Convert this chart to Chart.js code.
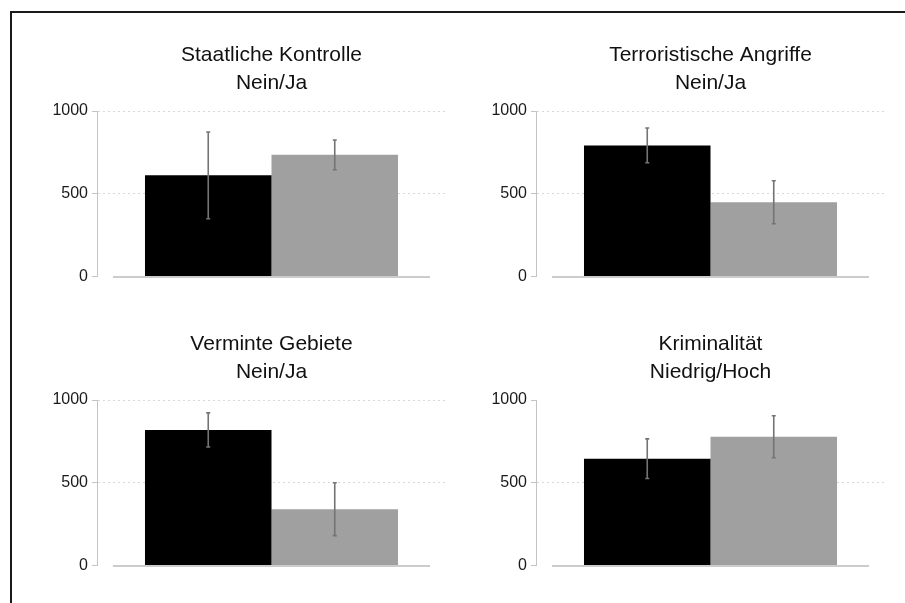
<!DOCTYPE html>
<html>
<head>
<meta charset="utf-8">
<script src="https://cdn.jsdelivr.net/npm/chart.js@4.4.1/dist/chart.umd.min.js"></script>
<style>
  body { margin: 0; background: #fff; }
  #page { position: relative; width: 905px; height: 603px; overflow: hidden; }
  #frame {
    position: absolute; left: 10px; top: 11px; width: 900px; height: 600px;
    border-left: 2px solid #1a1a1a; border-top: 2px solid #1a1a1a;
  }
  .panel { position: absolute; width: 450px; height: 290px; }
</style>
</head>
<body>
<div id="page">
  <div id="frame"></div>
  <div class="panel" style="left:0px;top:0px"><canvas id="c0"></canvas></div>
  <div class="panel" style="left:439px;top:0px"><canvas id="c1"></canvas></div>
  <div class="panel" style="left:0px;top:289px"><canvas id="c2"></canvas></div>
  <div class="panel" style="left:439px;top:289px"><canvas id="c3"></canvas></div>
</div>
<script>
// values
const titleLines = ['Staatliche Kontrolle', 'Terroristische Angriffe', 'Verminte Gebiete', 'Kriminalität'];
const subLines = ['Nein/Ja', 'Nein/Ja', 'Nein/Ja', 'Niedrig/Hoch'];
const firstValues = [611, 792, 819, 645];
const firstErrors = [262, 105, 103, 120];
const secondValues = [735, 448, 340, 778];
const secondErrors = [90, 130, 160, 127];
const yTicks = [0, 500, 1000];

const fontFamily = "'Liberation Sans', Arial, sans-serif";
// the last panel has no dotted line at the top tick
const topGridShown = [true, true, true, false];

// error bars, drawn from the dataset values through the y scale
const errorBars = {
  id: 'errorBars',
  afterDatasetsDraw(chart) {
    const ctx = chart.ctx;
    const y = chart.scales.y;
    ctx.save();
    ctx.strokeStyle = '#747474';
    ctx.lineWidth = 1.6;
    chart.data.datasets.forEach((ds, di) => {
      const meta = chart.getDatasetMeta(di);
      meta.data.forEach((bar, i) => {
        const v = ds.data[i];
        const e = ds.errors[i];
        const top = y.getPixelForValue(v + e);
        const bottom = y.getPixelForValue(v - e);
        ctx.beginPath();
        ctx.moveTo(bar.x, top);
        ctx.lineTo(bar.x, bottom);
        ctx.moveTo(bar.x - 2, top);
        ctx.lineTo(bar.x + 2, top);
        ctx.moveTo(bar.x - 2, bottom);
        ctx.lineTo(bar.x + 2, bottom);
        ctx.stroke();
      });
    });
    ctx.restore();
  },
};

// light baseline at zero, a bit wider than the bar pair
const baseLine = {
  id: 'baseLine',
  beforeDatasetsDraw(chart) {
    const ctx = chart.ctx;
    const y0 = chart.scales.y.getPixelForValue(0);
    const b0 = chart.getDatasetMeta(0).data[0];
    const b1 = chart.getDatasetMeta(1).data[0];
    const left = b0.x - b0.width / 2 - 32;
    const right = b1.x + b1.width / 2 + 32;
    ctx.save();
    ctx.strokeStyle = '#cccccc';
    ctx.lineWidth = 2;
    ctx.beginPath();
    ctx.moveTo(left, y0 + 0.5);
    ctx.lineTo(right, y0 + 0.5);
    ctx.stroke();
    ctx.restore();
  },
};

function makePanel(i) {
  const ctx = document.getElementById('c' + i);
  return new Chart(ctx, {
    type: 'bar',
    data: {
      labels: [''],
      datasets: [
        {
          label: 'first',
          data: [firstValues[i]],
          errors: [firstErrors[i]],
          backgroundColor: '#000000',
        },
        {
          label: 'second',
          data: [secondValues[i]],
          errors: [secondErrors[i]],
          backgroundColor: '#a0a0a0',
        },
      ],
    },
    options: {
      responsive: true,
      maintainAspectRatio: false,
      animation: false,
      datasets: {
        bar: { categoryPercentage: 0.725, barPercentage: 1 },
      },
      layout: { padding: { top: 0, left: 0, right: 4, bottom: 13 } },
      plugins: {
        legend: { display: false },
        tooltip: { enabled: false },
        title: {
          display: true,
          fullSize: false,
          text: [titleLines[i], subLines[i]],
          color: '#111111',
          font: { family: fontFamily, size: 21, weight: 'normal', lineHeight: '28px' },
          padding: { top: 41, bottom: 14 },
        },
      },
      scales: {
        x: { display: false },
        y: {
          min: 0,
          max: 1000,
          afterBuildTicks: (scale) => {
            scale.ticks = yTicks.map((v) => ({ value: v }));
          },
          afterFit: (scale) => {
            scale.width = 97;
          },
          border: { display: true, color: '#c4c4c4', width: 1, dash: [2, 3] },
          grid: {
            color: (c) => {
              if (!c.tick || c.tick.value === 0) return 'rgba(0,0,0,0)';
              if (c.tick.value === 1000 && !topGridShown[i]) return 'rgba(0,0,0,0)';
              return '#d8d8d8';
            },
            lineWidth: 1,
            tickLength: 5,
            tickColor: '#c4c4c4',
            tickBorderDash: [],
          },
          ticks: {
            color: '#1a1a1a',
            padding: 4,
            font: { family: fontFamily, size: 16 },
            callback: (v) => String(v),
          },
        },
      },
    },
    plugins: [baseLine, errorBars],
  });
}

[0, 1, 2, 3].forEach(makePanel);
</script>
</body>
</html>
